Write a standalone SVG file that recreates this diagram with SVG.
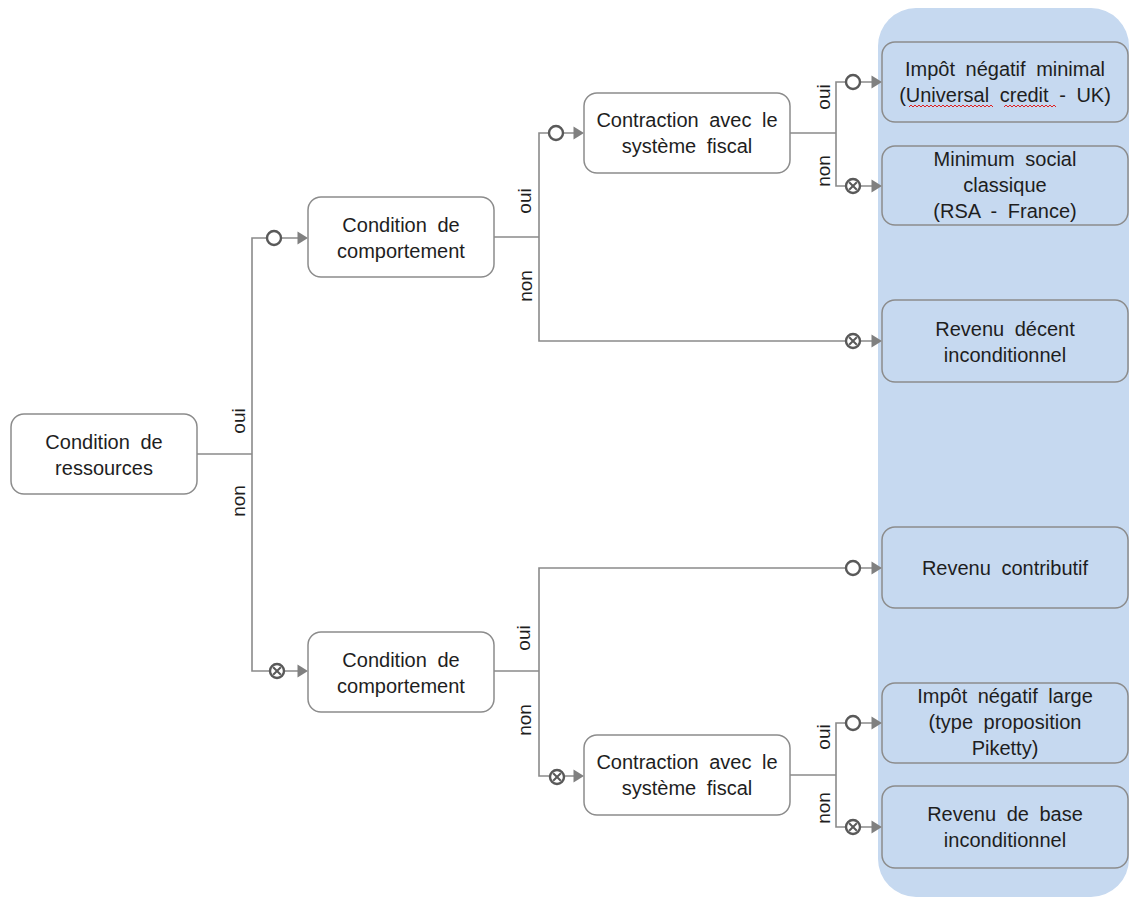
<svg xmlns="http://www.w3.org/2000/svg" xmlns:xlink="http://www.w3.org/1999/xlink" width="1129" height="898" viewBox="0 0 1129 898">
<style>
.node{fill:#ffffff;stroke:#8c8c8c;stroke-width:1.5}
.res{fill:#c6d9f0;stroke:#8c8c8c;stroke-width:1.5}
.t{font-family:"Liberation Sans",Arial,sans-serif;font-size:20px;fill:#1e1e1e;text-anchor:middle;word-spacing:5px}
.lbl{font-family:"Liberation Sans",Arial,sans-serif;font-size:19px;fill:#1e1e1e;text-anchor:middle}
.con{fill:none;stroke:#8a8a8a;stroke-width:1.6}
.o{fill:#ffffff;stroke:#595959;stroke-width:2.4}
.x{stroke:#595959;stroke-width:2}
.arr{fill:#808080}
</style>
<defs>
<path id="arr" class="arr" d="M0,-6.5 L10.5,0 L0,6.5 Z"/>
<circle id="oc" class="o" r="7"/>
<g id="xc"><circle class="o" r="7"/><path class="x" d="M-3.8,-3.8 L3.8,3.8 M-3.8,3.8 L3.8,-3.8"/></g>
</defs>
<rect id="panel" x="878" y="8" width="251" height="889" rx="38" fill="#c6d9f0"/>
<g id="connectors">
<path class="con" d="M196 454 H252"/>
<path class="con" d="M298 238 H252 V671 H298"/>
<path class="con" d="M494 237 H539"/>
<path class="con" d="M574 133 H539 V341 H872"/>
<path class="con" d="M790 133 H836"/>
<path class="con" d="M872 82 H836 V186 H872"/>
<path class="con" d="M494 671 H539"/>
<path class="con" d="M872 568 H539 V776 H574"/>
<path class="con" d="M790 775 H836"/>
<path class="con" d="M872 723 H836 V827 H872"/>
<use xlink:href="#arr" x="297.5" y="238"/>
<use xlink:href="#arr" x="297.5" y="671"/>
<use xlink:href="#arr" x="573.5" y="133"/>
<use xlink:href="#arr" x="871.5" y="82"/>
<use xlink:href="#arr" x="871.5" y="186"/>
<use xlink:href="#arr" x="871.5" y="341"/>
<use xlink:href="#arr" x="871.5" y="568"/>
<use xlink:href="#arr" x="573.5" y="776"/>
<use xlink:href="#arr" x="871.5" y="723"/>
<use xlink:href="#arr" x="871.5" y="827"/>
<use xlink:href="#oc" x="274" y="238"/>
<use xlink:href="#xc" x="277" y="671"/>
<use xlink:href="#oc" x="556" y="133"/>
<use xlink:href="#oc" x="853" y="82"/>
<use xlink:href="#xc" x="853" y="186"/>
<use xlink:href="#xc" x="853" y="341"/>
<use xlink:href="#oc" x="853" y="568"/>
<use xlink:href="#xc" x="557" y="777"/>
<use xlink:href="#oc" x="853" y="723"/>
<use xlink:href="#xc" x="853" y="827"/>
<text class="lbl" transform="translate(245,421) rotate(-90)">oui</text>
<text class="lbl" transform="translate(245,501) rotate(-90)">non</text>
<text class="lbl" transform="translate(531,201) rotate(-90)">oui</text>
<text class="lbl" transform="translate(532,286) rotate(-90)">non</text>
<text class="lbl" transform="translate(830,97) rotate(-90)">oui</text>
<text class="lbl" transform="translate(830,171) rotate(-90)">non</text>
<text class="lbl" transform="translate(530,638) rotate(-90)">oui</text>
<text class="lbl" transform="translate(531,720) rotate(-90)">non</text>
<text class="lbl" transform="translate(830,737) rotate(-90)">oui</text>
<text class="lbl" transform="translate(830,808) rotate(-90)">non</text>
</g>
<g id="n-ressources">
<rect class="node" x="11" y="414" width="186" height="80" rx="13"/>
<text class="t" x="104" y="449">Condition de</text>
<text class="t" x="104" y="475">ressources</text>
</g>
<g id="n-comportement-1">
<rect class="node" x="308" y="197" width="186" height="80" rx="13"/>
<text class="t" x="401" y="232">Condition de</text>
<text class="t" x="401" y="258">comportement</text>
</g>
<g id="n-comportement-2">
<rect class="node" x="308" y="632" width="186" height="80" rx="13"/>
<text class="t" x="401" y="667">Condition de</text>
<text class="t" x="401" y="693">comportement</text>
</g>
<g id="n-contraction-1">
<rect class="node" x="584" y="93" width="206" height="80" rx="13"/>
<text class="t" x="687" y="127">Contraction avec le</text>
<text class="t" x="687" y="153">système fiscal</text>
</g>
<g id="n-contraction-2">
<rect class="node" x="584" y="735" width="206" height="80" rx="13"/>
<text class="t" x="687" y="769">Contraction avec le</text>
<text class="t" x="687" y="795">système fiscal</text>
</g>
<g id="n-impot-minimal">
<rect class="res" x="882" y="42" width="246" height="80" rx="13"/>
<text class="t" x="1005" y="76">Impôt négatif minimal</text>
<text class="t" x="1005" y="102">(Universal credit - UK)</text>
<path d="M909 107 l2 -2 l2 2 l2 -2 l2 2 l2 -2 l2 2 l2 -2 l2 2 l2 -2 l2 2 l2 -2 l2 2 l2 -2 l2 2 l2 -2 l2 2 l2 -2 l2 2 l2 -2 l2 2 l2 -2 l2 2 l2 -2 l2 2 l2 -2 l2 2 l2 -2 l2 2 l2 -2 l2 2 l2 -2 l2 2 l2 -2 l2 2 l2 -2 l2 2 l2 -2 l2 2 l2 -2 l2 2 l2 -2 l2 2" fill="none" stroke="#e02020" stroke-width="1"/>
<path d="M1004 107 l2 -2 l2 2 l2 -2 l2 2 l2 -2 l2 2 l2 -2 l2 2 l2 -2 l2 2 l2 -2 l2 2 l2 -2 l2 2 l2 -2 l2 2 l2 -2 l2 2 l2 -2 l2 2 l2 -2 l2 2 l2 -2 l2 2 l2 -2 l2 2" fill="none" stroke="#e02020" stroke-width="1"/>
</g>
<g id="n-minimum-social">
<rect class="res" x="882" y="146" width="246" height="79" rx="13"/>
<text class="t" x="1005" y="166">Minimum social</text>
<text class="t" x="1005" y="192">classique</text>
<text class="t" x="1005" y="218">(RSA - France)</text>
</g>
<g id="n-revenu-decent">
<rect class="res" x="882" y="300" width="246" height="82" rx="13"/>
<text class="t" x="1005" y="336">Revenu décent</text>
<text class="t" x="1005" y="362">inconditionnel</text>
</g>
<g id="n-revenu-contributif">
<rect class="res" x="882" y="527" width="246" height="81" rx="13"/>
<text class="t" x="1005" y="575">Revenu contributif</text>
</g>
<g id="n-impot-large">
<rect class="res" x="882" y="683" width="246" height="80" rx="13"/>
<text class="t" x="1005" y="703">Impôt négatif large</text>
<text class="t" x="1005" y="729">(type proposition</text>
<text class="t" x="1005" y="755">Piketty)</text>
</g>
<g id="n-revenu-base">
<rect class="res" x="882" y="786" width="246" height="82" rx="13"/>
<text class="t" x="1005" y="821">Revenu de base</text>
<text class="t" x="1005" y="847">inconditionnel</text>
</g>
</svg>
